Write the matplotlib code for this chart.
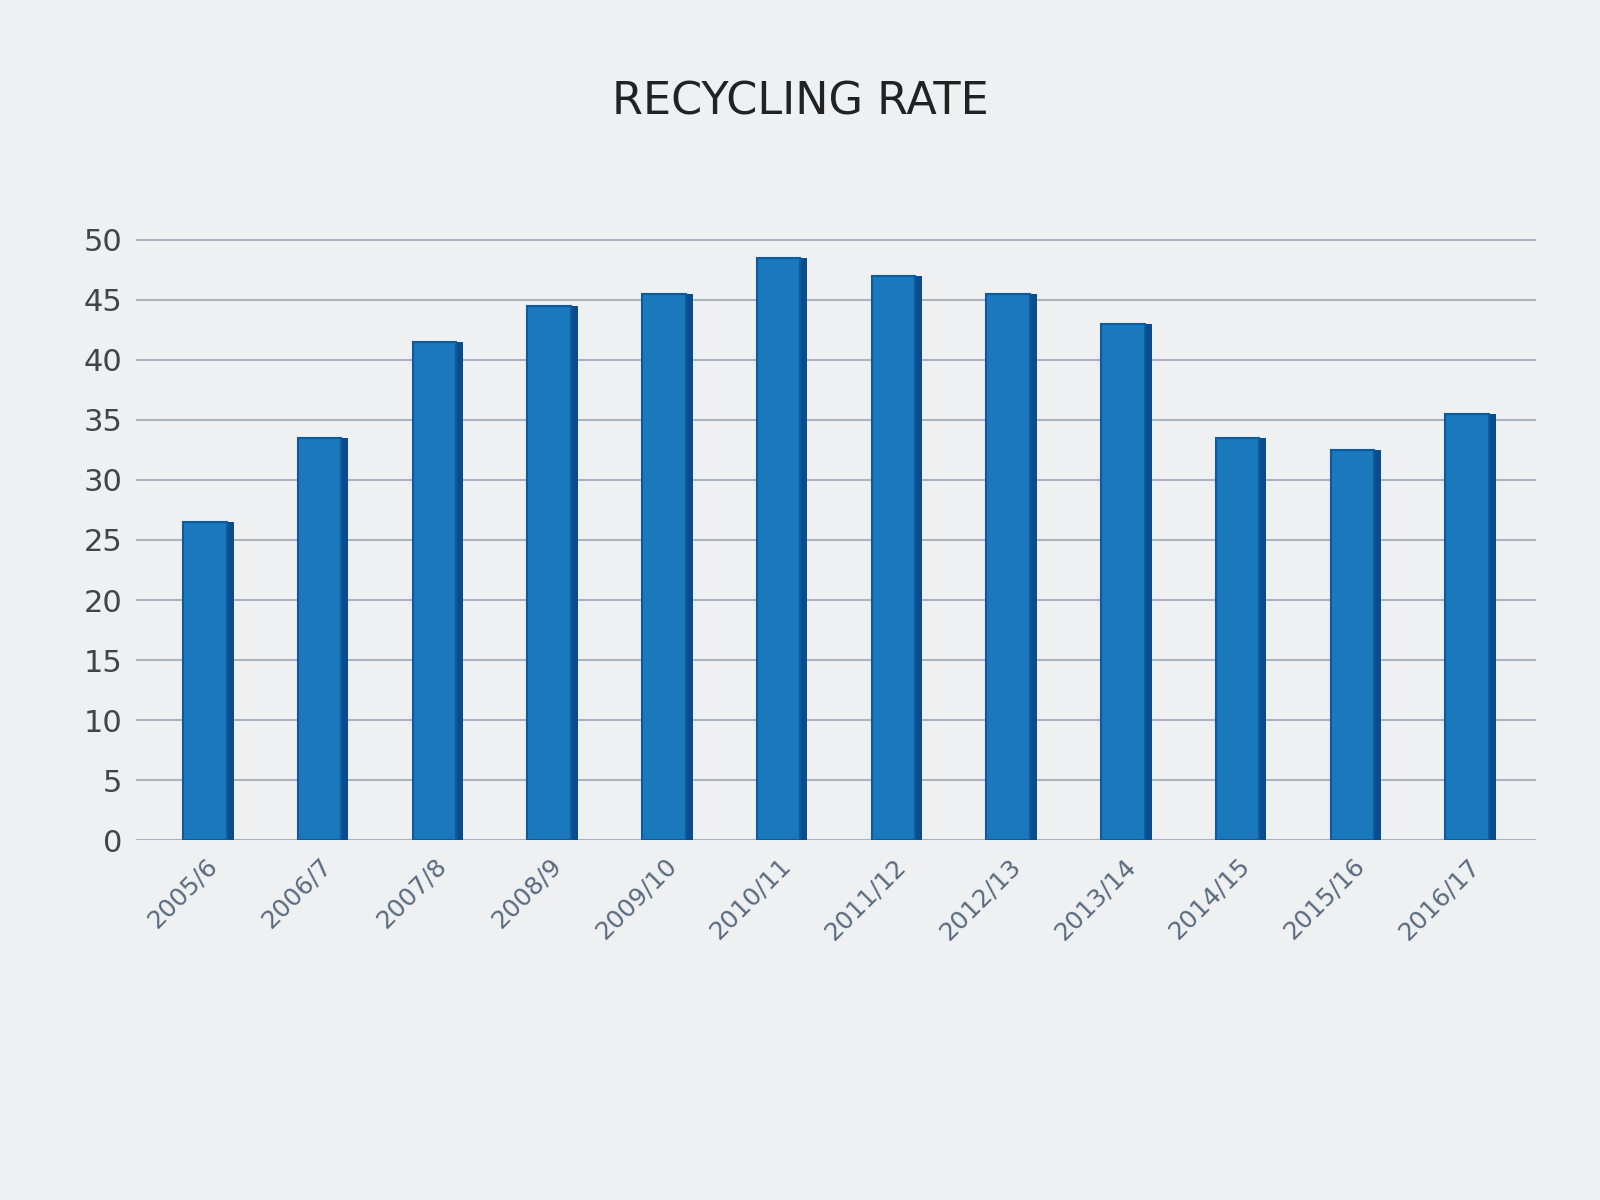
import matplotlib
matplotlib.use("Agg")
import matplotlib.pyplot as plt
import numpy as np

years = ["2005/6", "2006/7", "2007/8", "2008/9", "2009/10", "2010/11",
         "2011/12", "2012/13", "2013/14", "2014/15", "2015/16", "2016/17"]
rates = [26.5, 33.5, 41.5, 44.5, 45.5, 48.5, 47, 45.5, 43, 33.5, 32.5, 35.5]
yticks = [0, 5, 10, 15, 20, 25, 30, 35, 40, 45, 50]

fig = plt.figure(figsize=(16, 12), dpi=100)
fig.patch.set_facecolor("#eef0f1")
ax = fig.add_axes([0.085, 0.30, 0.875, 0.52])
ax.set_facecolor("#eef0f1")

x = np.arange(len(years))
w = 0.38
# depth/side face
ax.bar(x + 0.06, rates, width=w, color="#0b4d8c", zorder=2)
ax.bar(x, rates, width=w, color="#1a78bd", edgecolor="#0e5a9e", linewidth=1.5, zorder=3)

ax.set_ylim(0, 52)
ax.set_xlim(-0.6, len(years) - 0.4)
ax.set_yticks(yticks)
ax.set_yticklabels([str(t) for t in yticks], fontsize=22, color="#444444")
ax.set_xticks(x)
ax.set_xticklabels(years, rotation=45, ha="right", rotation_mode="anchor",
                   fontsize=18, color="#5a6a80")
ax.yaxis.grid(True, color="#a9b4c4", linewidth=1.5, zorder=0)
ax.set_axisbelow(True)
for s in ax.spines.values():
    s.set_visible(False)
ax.tick_params(length=0, pad=10)

fig.text(0.50, 0.915, "RECYCLING RATE", ha="center", va="center",
         fontsize=32, color="#222222")

fig.savefig("out.png", dpi=100, facecolor=fig.get_facecolor())
